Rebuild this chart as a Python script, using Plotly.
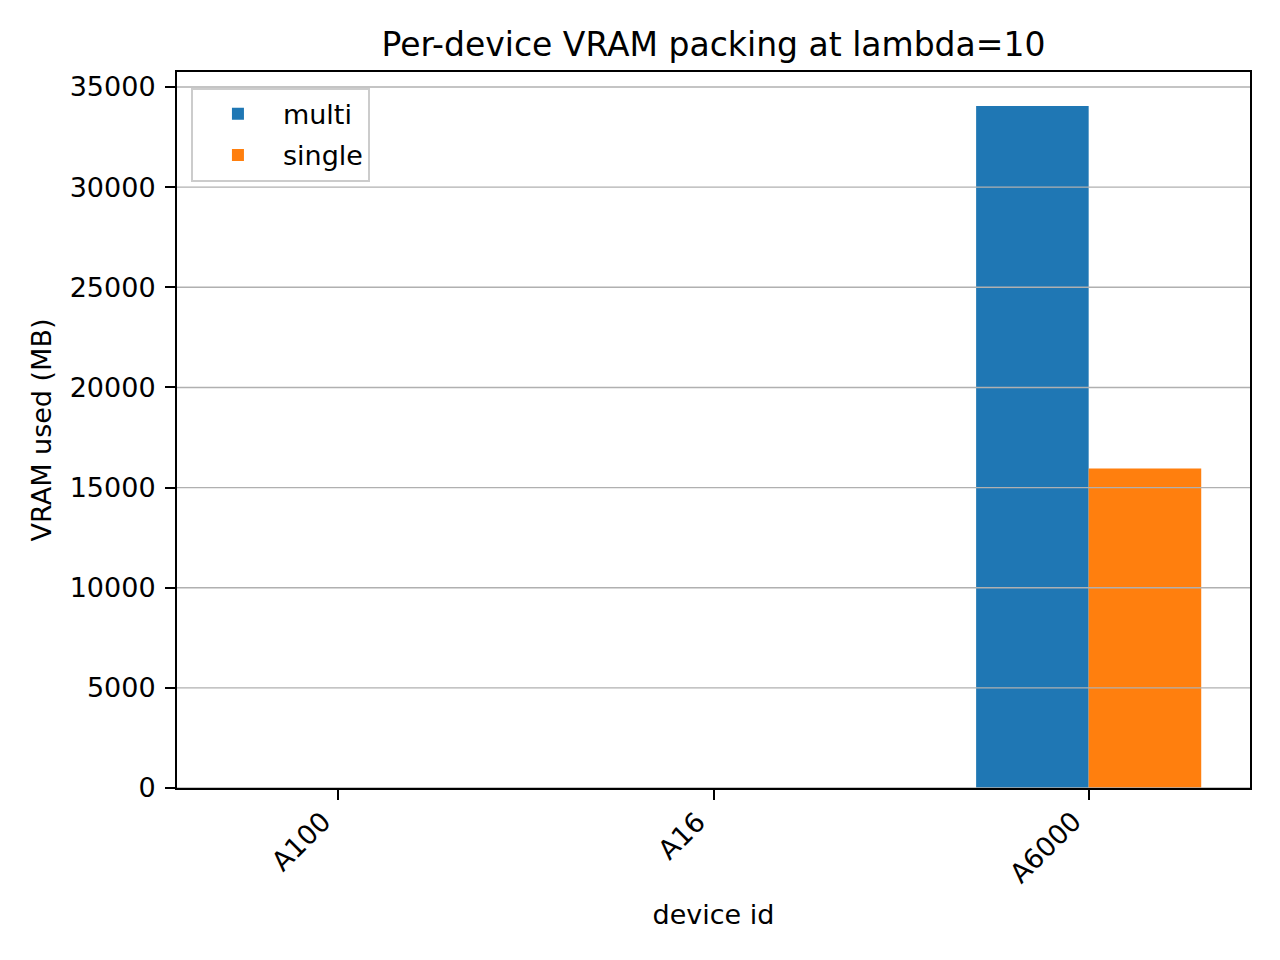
import plotly.graph_objects as go

devices = ["A100", "A16", "A6000"]
multi_vals = [0, 0, 34050]
single_vals = [0, 0, 15950]
y_ticks = [0, 5000, 10000, 15000, 20000, 25000, 30000, 35000]

FONT = "DejaVu Sans"

fig = go.Figure()
fig.add_trace(go.Bar(x=devices, y=multi_vals, name="multi", legendgroup="m",
                     marker=dict(color="#1f77b4", line=dict(width=0))))
fig.add_trace(go.Bar(x=devices, y=single_vals, name="single", legendgroup="s",
                     marker=dict(color="#ff7f0e", line=dict(width=0))))

# gridlines drawn above bars (as in the reference)
for t in y_ticks:
    fig.add_shape(type="line", xref="paper", x0=0, x1=1, yref="y", y0=t, y1=t,
                  line=dict(color="#b0b0b0", width=1.4), layer="above")

# rotated x tick labels, right-aligned to the tick like matplotlib
for d in devices:
    fig.add_annotation(x=d, xref="x", y=0, yref="paper", text=d, showarrow=False,
                       textangle=-45, xanchor="right", yanchor="top", yshift=-15,
                       xshift=1, font=dict(size=27, family=FONT, color="black"))

fig.update_layout(
    width=1280, height=960,
    margin=dict(l=177, r=30, t=72, b=172),
    paper_bgcolor="white", plot_bgcolor="white",
    font=dict(family=FONT, size=27, color="black"),
    barmode="group", bargap=0.4, bargroupgap=0,
    title=dict(text="Per-device VRAM packing at lambda=10", xref="paper", x=0.5, xanchor="center",
               y=1 - 44 / 960, yanchor="middle", font=dict(size=33, family=FONT)),
    showlegend=True,
    legend=dict(x=0.013, y=0.978, xanchor="left", yanchor="top",
                bgcolor="rgba(255,255,255,0.8)", bordercolor="#cccccc", borderwidth=2,
                itemwidth=80, tracegroupgap=3,
                font=dict(size=27, family=FONT)),
)
fig.update_xaxes(
    range=[-0.43, 2.43], showgrid=False, showline=True, linecolor="black", linewidth=2,
    mirror=True, ticks="outside", ticklen=10, tickwidth=2, tickcolor="black",
    showticklabels=False,
    title=dict(text="device id", standoff=106, font=dict(size=27)),
)
fig.update_yaxes(
    range=[0, 35750], tickvals=y_ticks, ticktext=[str(v) for v in y_ticks],
    showgrid=False, zeroline=False, showline=True, linecolor="black", linewidth=2,
    mirror=True, ticks="outside", ticklen=10, tickwidth=2, tickcolor="black",
    ticklabelstandoff=4,
    title=dict(text="VRAM used (MB)", standoff=10, font=dict(size=27)),
)

fig.write_html("out.html")
